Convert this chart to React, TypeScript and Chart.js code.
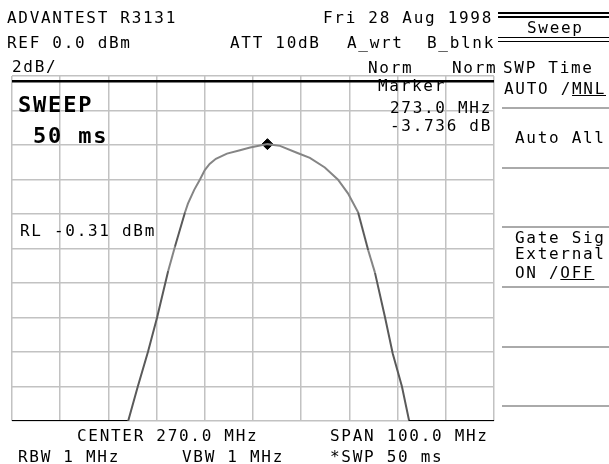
import React, { useEffect, useRef } from "react";
import { Chart, registerables } from "chart.js";

Chart.register(...registerables);

// ---- data ----
const traceFreqMHz = [
  220, 244.1, 246.1, 248.2, 250.1, 252.4, 253.8, 255.9, 256.5, 257.8, 259.0,
  260.0, 261.0, 262.3, 264.6, 267.3, 269.4, 273.0, 275.6, 279.1, 281.8, 284.9,
  287.6, 289.7, 291.8, 293.9, 295.3, 297.4, 299.0, 300.9, 302.4, 320,
];
const traceLevelDbm = [
  -20, -20, -18.0, -16.0, -14.0, -11.3, -9.9, -7.9, -7.4, -6.6, -6.0,
  -5.45, -5.1, -4.8, -4.5, -4.3, -4.15, -3.95, -4.05, -4.45, -4.75, -5.3,
  -6.0, -6.8, -7.9, -10.1, -11.4, -14.0, -16.1, -18.0, -20, -20,
];
const rlLevelDbm = -0.31;
const markerFreqMHz = 273.0;
const markerLevelDbm = -3.95;
const freqMinMHz = 220;
const freqMaxMHz = 320;
const freqDivMHz = 10;
const refLevelDbm = 0;
const bottomLevelDbm = -20;
const dbPerDiv = 2;

const FONT = "'DejaVu Sans Mono', 'Liberation Mono', monospace";

type TProps = {
  x: number;
  y: number;
  children: React.ReactNode;
  big?: boolean;
};

function T({ x, y, children, big }: TProps) {
  const size = big ? 22 : 16;
  const off = big ? 2.6 : 1.9;
  return (
    <div
      style={{
        position: "absolute",
        left: x,
        top: y - off,
        fontFamily: FONT,
        fontSize: size,
        lineHeight: `${size}px`,
        fontWeight: big ? "bold" : "normal",
        letterSpacing: big ? "1.8px" : "1.7px",
        whiteSpace: "pre",
        color: "#000",
      }}
    >
      {children}
    </div>
  );
}

function HLine({ x1, x2, y, color, w }: { x1: number; x2: number; y: number; color: string; w: number }) {
  return (
    <div
      style={{
        position: "absolute",
        left: x1,
        top: y - w / 2,
        width: x2 - x1,
        height: w,
        background: color,
      }}
    />
  );
}

export default function App() {
  const canvasRef = useRef<HTMLCanvasElement | null>(null);

  useEffect(() => {
    if (!canvasRef.current) return;
    const trace = traceFreqMHz.map((f, i) => ({ x: f, y: traceLevelDbm[i] }));
    const chart = new Chart(canvasRef.current, {
      type: "line",
      data: {
        datasets: [
          {
            label: "RL",
            data: [
              { x: freqMinMHz, y: rlLevelDbm },
              { x: freqMaxMHz, y: rlLevelDbm },
            ],
            borderColor: "#000",
            borderWidth: 2.5,
            pointRadius: 0,
          },
          {
            label: "Trace",
            data: trace,
            borderColor: "#808080",
            borderWidth: 2,
            pointRadius: 0,
            tension: 0,
            segment: {
              borderColor: (ctx: any) =>
                ctx.p0.parsed.y <= bottomLevelDbm + 0.05 && ctx.p1.parsed.y <= bottomLevelDbm + 0.05
                  ? "#000"
                  : Math.abs(ctx.p1.parsed.y - ctx.p0.parsed.y) > 1.5
                  ? "#5a5a5a"
                  : "#858585",
            },
          },
          {
            label: "Marker",
            data: [{ x: markerFreqMHz, y: markerLevelDbm }],
            showLine: false,
            pointStyle: "rectRot",
            pointRadius: 5.5,
            pointBackgroundColor: "#000",
            pointBorderColor: "#000",
            pointBorderWidth: 1,
          },
        ],
      },
      options: {
        animation: false,
        responsive: false,
        maintainAspectRatio: false,
        events: [],
        layout: {
          autoPadding: false,
          padding: { left: 12, right: 115, top: 76, bottom: 43 },
        },
        plugins: {
          legend: { display: false },
          tooltip: { enabled: false },
          title: { display: false },
        },
        scales: {
          x: {
            type: "linear",
            min: freqMinMHz,
            max: freqMaxMHz,
            ticks: { display: false, stepSize: freqDivMHz },
            grid: { color: "#c2c2c2", lineWidth: 1.5, drawTicks: false },
            border: { display: false },
          },
          y: {
            type: "linear",
            min: bottomLevelDbm,
            max: refLevelDbm,
            ticks: { display: false, stepSize: dbPerDiv },
            grid: { color: "#c2c2c2", lineWidth: 1.5, drawTicks: false },
            border: { display: false },
          },
        },
      },
    } as any);
    return () => chart.destroy();
  }, []);

  return (
    <div
      style={{
        position: "fixed",
        left: 0,
        top: 0,
        width: 609,
        height: 464,
        background: "#fff",
        overflow: "hidden",
      }}
    >
      <canvas
        ref={canvasRef}
        width={609}
        height={464}
        style={{ position: "absolute", left: 0, top: 0, width: 609, height: 464 }}
      />
      <div style={{ position: "absolute", left: 0, top: 0, width: 609, height: 464, pointerEvents: "none" }}>
        {/* header */}
        <T x={7} y={12}>ADVANTEST R3131</T>
        <T x={323} y={12}>Fri 28 Aug 1998</T>
        <T x={7} y={37}>REF 0.0 dBm</T>
        <T x={230} y={37}>ATT 10dB</T>
        <T x={347} y={37}>A_wrt</T>
        <T x={427} y={37}>B_blnk</T>
        <T x={12} y={61}>2dB/</T>
        <T x={368} y={62}>Norm</T>
        <T x={452} y={62}>Norm</T>

        {/* soft-key panel */}
        <HLine x1={498} x2={609} y={13} color="#000" w={1.5} />
        <HLine x1={498} x2={609} y={17} color="#000" w={1.5} />
        <T x={527} y={22}>Sweep</T>
        <HLine x1={498} x2={609} y={37.5} color="#000" w={1.5} />
        <HLine x1={498} x2={609} y={41.5} color="#000" w={1.5} />
        <T x={503} y={62}>SWP Time</T>
        <T x={504} y={83}>
          AUTO /<span style={{ textDecoration: "underline" }}>MNL</span>
        </T>
        <HLine x1={502} x2={609} y={108} color="#aaa" w={1.5} />
        <T x={515} y={132}>Auto All</T>
        <HLine x1={502} x2={609} y={168} color="#aaa" w={1.5} />
        <HLine x1={502} x2={609} y={227} color="#aaa" w={1.5} />
        <T x={515} y={232}>Gate Sig</T>
        <T x={515} y={248}>External</T>
        <T x={515} y={267}>
          ON /<span style={{ textDecoration: "underline" }}>OFF</span>
        </T>
        <HLine x1={502} x2={609} y={287} color="#aaa" w={1.5} />
        <HLine x1={502} x2={609} y={347} color="#aaa" w={1.5} />
        <HLine x1={502} x2={609} y={406} color="#aaa" w={1.5} />

        {/* in-plot annotations */}
        <T x={18} y={97} big>SWEEP</T>
        <T x={33} y={128} big>50 ms</T>
        <T x={20} y={225}>RL -0.31 dBm</T>
        <T x={378} y={80}>Marker</T>
        <T x={390} y={102}>273.0 MHz</T>
        <T x={390} y={120}>-3.736 dB</T>

        {/* footer */}
        <T x={77} y={430}>CENTER 270.0 MHz</T>
        <T x={330} y={430}>SPAN 100.0 MHz</T>
        <T x={18} y={451}>RBW 1 MHz</T>
        <T x={182} y={451}>VBW 1 MHz</T>
        <T x={330} y={451}>*SWP 50 ms</T>
      </div>
    </div>
  );
}
